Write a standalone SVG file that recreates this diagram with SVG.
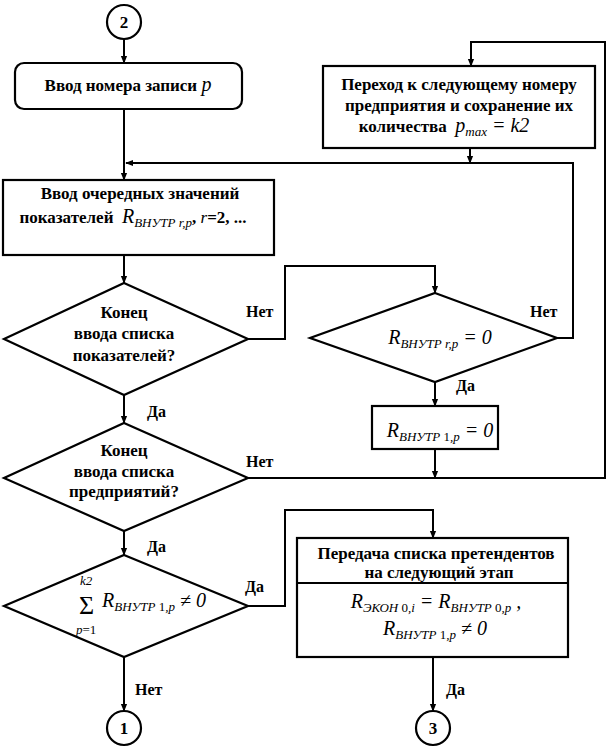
<svg xmlns="http://www.w3.org/2000/svg" width="608" height="753" viewBox="0 0 608 753" font-family="Liberation Serif, Times New Roman, serif">
<defs>
<marker id="ah" viewBox="0 0 10 10" refX="9" refY="5" markerWidth="8" markerHeight="8" markerUnits="userSpaceOnUse" orient="auto"><path d="M0,1 L10,5 L0,9 z" fill="#000"/></marker>
</defs>
<style>
.sh{fill:#fff;stroke:#000;stroke-width:2.2}
.c{fill:none;stroke:#000;stroke-width:2;marker-end:url(#ah)}
.t{font-weight:bold;font-size:17px;text-anchor:middle;fill:#000}
.l{font-weight:bold;font-size:16px;fill:#000}
.f{font-style:italic;font-weight:normal;font-size:20px;fill:#000}
.s{font-size:13px}
.u{font-style:normal}
</style>
<rect x="0" y="0" width="608" height="753" fill="#fff"/>
<g id="connectors">
<path class="c" d="M124,39 V63"/>
<path class="c" d="M124,109 V180"/>
<path class="c" d="M557,338 H573 V163 H126"/>
<path class="c" d="M470,148 V163"/>
<path class="c" d="M124,255 V283"/>
<path class="c" d="M248,339 H285 V266 H435 V293"/>
<path class="c" d="M124,395 V423"/>
<path class="c" d="M435,382 V406"/>
<path class="c" d="M435,449 V478"/>
<path class="c" d="M248,478 H605 V42 H471 V66"/>
<path class="c" d="M124,531 V555"/>
<path class="c" d="M248,606 H285 V510 H433 V538"/>
<path class="c" d="M124,657 V711"/>
<path class="c" d="M433,657 V711"/>
<text class="l" x="246" y="317">Нет</text>
<text class="l" x="147" y="417">Да</text>
<text class="l" x="246" y="467">Нет</text>
<text class="l" x="530" y="317">Нет</text>
<text class="l" x="456" y="391">Да</text>
<text class="l" x="147" y="552">Да</text>
<text class="l" x="245" y="592">Да</text>
<text class="l" x="135" y="695">Нет</text>
<text class="l" x="446" y="695">Да</text>
</g>
<g id="c2">
<circle class="sh" cx="124" cy="22" r="17"/>
<text class="t" x="124" y="28">2</text>
</g>
<g id="input-p">
<rect class="sh" x="15" y="63" width="227" height="46" rx="9"/>
<text class="t" x="128" y="91">Ввод номера записи <tspan class="f">p</tspan></text>
</g>
<g id="input-values">
<rect class="sh" x="3" y="180" width="271" height="75"/>
<text class="t" x="140" y="199">Ввод очередных значений</text>
<text class="t" x="133" y="223">показателей&#160;&#160;<tspan class="f">R</tspan><tspan class="f s" dy="4">ВНУТР r,p</tspan><tspan dy="-4">, </tspan><tspan class="f" style="font-size:17px">r</tspan>=2, ...</text>
</g>
<g id="next-enterprise">
<rect class="sh" x="323" y="66" width="272" height="82"/>
<text class="t" x="459" y="90">Переход к следующему номеру</text>
<text class="t" x="459" y="111">предприятия и сохранение их</text>
<text class="t" x="444" y="132">количества&#160;&#160;<tspan class="f">p</tspan><tspan class="f s" dy="4">max</tspan><tspan class="f" dy="-4"> = k2</tspan></text>
</g>
<g id="d-end-indicators">
<polygon class="sh" points="124,283 248,339 124,395 4,339"/>
<text class="t" x="124" y="318">Конец</text>
<text class="t" x="124" y="339">ввода списка</text>
<text class="t" x="124" y="361">показателей?</text>
</g>
<g id="d-r-zero">
<polygon class="sh" points="435,293 557,338 435,382 310,338"/>
<text class="f" x="440" y="344" text-anchor="middle">R<tspan class="s" dy="4">ВНУТР r,p</tspan><tspan dy="-4"> = 0</tspan></text>
</g>
<g id="set-r1-zero">
<rect class="sh" x="372" y="406" width="126" height="43"/>
<text class="f" x="440" y="437" text-anchor="middle">R<tspan class="s" dy="4">ВНУТР <tspan class="u">1</tspan>,p</tspan><tspan dy="-4"> = 0</tspan></text>
</g>
<g id="d-end-enterprises">
<polygon class="sh" points="124,423 248,478 124,531 4,478"/>
<text class="t" x="124" y="456">Конец</text>
<text class="t" x="124" y="477">ввода списка</text>
<text class="t" x="124" y="497">предприятий?</text>
</g>
<g id="d-sum">
<polygon class="sh" points="124,555 248,606 124,657 4,606"/>
<text class="f"><tspan class="u" x="79" y="614" style="font-size:26px">Σ</tspan><tspan class="s" x="80" y="585">k2</tspan><tspan class="s" x="76" y="634">p<tspan class="u">=1</tspan></tspan><tspan x="102" y="607">R</tspan><tspan class="s" dy="4">ВНУТР <tspan class="u">1</tspan>,p</tspan><tspan dy="-4"> ≠ 0</tspan></text>
</g>
<g id="transfer">
<rect class="sh" x="297" y="538" width="271" height="119"/>
<line x1="297" y1="583" x2="568" y2="583" stroke="#000" stroke-width="2.2"/>
<text class="t" x="436" y="559">Передача списка претендентов</text>
<text class="t" x="439" y="578">на следующий этап</text>
<text class="f" x="436" y="608" text-anchor="middle">R<tspan class="s" dy="4">ЭКОН <tspan class="u">0</tspan>,i</tspan><tspan dy="-4"> = R</tspan><tspan class="s" dy="4">ВНУТР <tspan class="u">0</tspan>,p</tspan><tspan dy="-4"> ,</tspan></text>
<text class="f" x="435" y="635" text-anchor="middle">R<tspan class="s" dy="4">ВНУТР <tspan class="u">1</tspan>,p</tspan><tspan dy="-4"> ≠ 0</tspan></text>
</g>
<g id="c1">
<circle class="sh" cx="124" cy="728" r="17"/>
<text class="t" x="124" y="734">1</text>
</g>
<g id="c3">
<circle class="sh" cx="433" cy="728" r="17"/>
<text class="t" x="433" y="734">3</text>
</g>
</svg>
